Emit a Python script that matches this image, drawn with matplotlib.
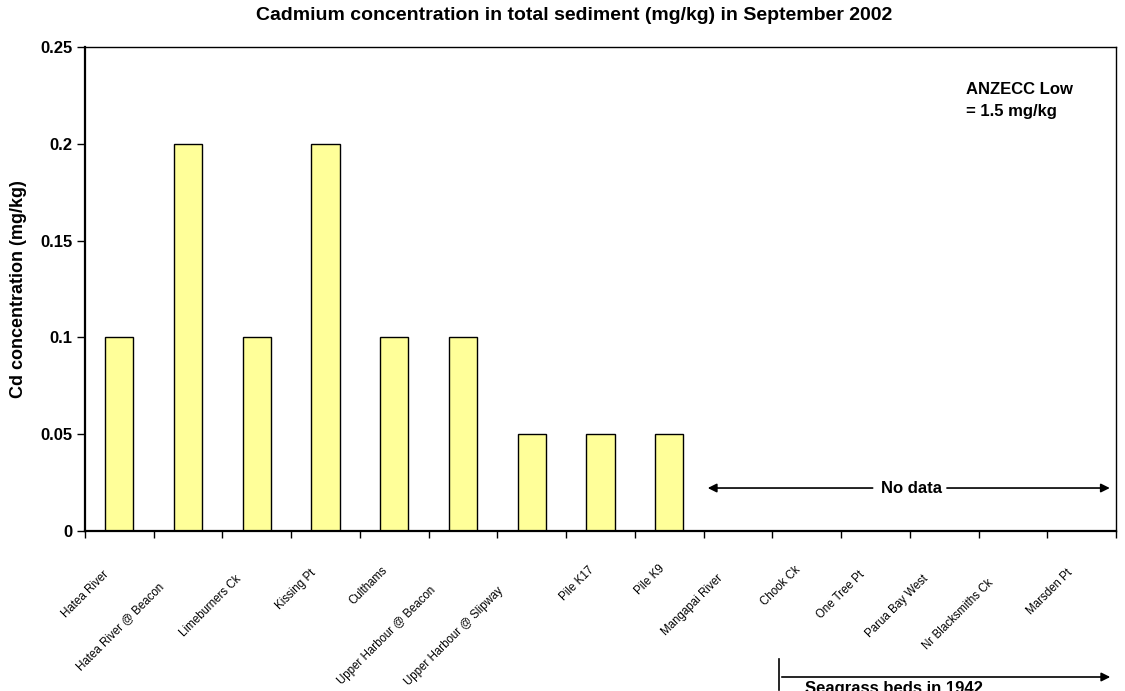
import numpy as np
import matplotlib.pyplot as plt
from matplotlib.transforms import ScaledTranslation
from matplotlib.patches import FancyArrowPatch

sites = ["Hatea River", "Hatea River @ Beacon", "Limeburners Ck", "Kissing Pt",
         "Culthams", "Upper Harbour @ Beacon", "Upper Harbour @ Slipway",
         "Pile K17", "Pile K9", "Mangapai River", "Chook Ck", "One Tree Pt",
         "Parua Bay West", "Nr Blacksmiths Ck", "Marsden Pt"]
cadmium = [0.1, 0.2, 0.1, 0.2, 0.1, 0.1, 0.05, 0.05, 0.05,
           np.nan, np.nan, np.nan, np.nan, np.nan, np.nan]
y_ticks = [0, 0.05, 0.1, 0.15, 0.2, 0.25]
y_ticklabels = ["0", "0.05", "0.1", "0.15", "0.2", "0.25"]

plt.rcParams['font.family'] = ['Liberation Sans', 'DejaVu Sans']

fig = plt.figure(figsize=(11.25, 6.91), dpi=100)
W, H = 1125, 691
ax = fig.add_axes([85 / W, 1 - 531 / H, (1116 - 85) / W, (531 - 47) / H])

x = np.arange(len(sites))
ax.bar(x, cadmium, width=0.41, color='#FFFF99', edgecolor='black', linewidth=1)

ax.set_xlim(-0.5, len(sites) - 0.5)
ax.set_ylim(0, 0.25)
ax.set_yticks(y_ticks)
ax.set_yticklabels(y_ticklabels, fontweight='bold', fontsize=12)
ax.tick_params(axis='y', direction='out', length=6, width=1, pad=3)

# category boundary ticks, labels at centres
ax.set_xticks(np.arange(len(sites) + 1) - 0.5, minor=True)
ax.set_xticks(x)
ax.set_xticklabels([])
ax.tick_params(axis='x', which='minor', direction='out', length=5, width=1)
ax.tick_params(axis='x', which='major', length=0)

for s in ['left', 'bottom']:
    ax.spines[s].set_linewidth(1.6)
for s in ['top', 'right']:
    ax.spines[s].set_linewidth(1.0)

# rotated site labels, shifted like the spreadsheet layout
for i, name in enumerate(sites):
    n = len(name)
    dx = -(0.5 + 1.5 * n) / 100
    dy = -(22 + 1.4 * n) / 100
    off = ScaledTranslation(dx, dy, fig.dpi_scale_trans)
    ax.text(i, 0, name, rotation=45, rotation_mode='anchor', ha='right', va='top',
            fontsize=8.3, transform=ax.get_xaxis_transform() + off)

ax.set_ylabel("Cd concentration (mg/kg)", fontweight='bold', fontsize=13)
ax.yaxis.set_label_coords(-0.056, 0.5)

fig.text(0.51, 1 - 16 / H, "Cadmium concentration in total sediment (mg/kg) in September 2002",
         ha='center', va='center', fontweight='bold', fontsize=14)

ax.text(12.32, 0.2319, "ANZECC Low\n= 1.5 mg/kg", ha='left', va='top',
        fontweight='bold', fontsize=12, linespacing=1.6)

# "No data" arrow
ax.annotate("", xy=(8.52, 0.0222), xytext=(11.0, 0.0222),
            arrowprops=dict(arrowstyle='-|>', color='black', lw=1.2, mutation_scale=13))
ax.annotate("", xy=(14.45, 0.0222), xytext=(12.0, 0.0222),
            arrowprops=dict(arrowstyle='-|>', color='black', lw=1.2, mutation_scale=13))
ax.text(11.52, 0.0222, "No data", ha='center', va='center', fontweight='bold', fontsize=12,
        bbox=dict(facecolor='white', edgecolor='none', pad=2))

# seagrass arrow below the axis labels
fig.add_artist(plt.Line2D([779 / W, 779 / W], [1 - 659 / H, 1 - 690 / H], color='black', lw=1.2))
fig.patches.append(FancyArrowPatch(
    (779 / W, 1 - 677 / H), (1113 / W, 1 - 677 / H), transform=fig.transFigure,
    arrowstyle='-|>', mutation_scale=13, color='black', lw=1.2))
fig.text(805 / W, 1 - 681 / H, "Seagrass beds in 1942", ha='left', va='top',
         fontweight='bold', fontsize=12)

fig.savefig("out.png", dpi=100)
